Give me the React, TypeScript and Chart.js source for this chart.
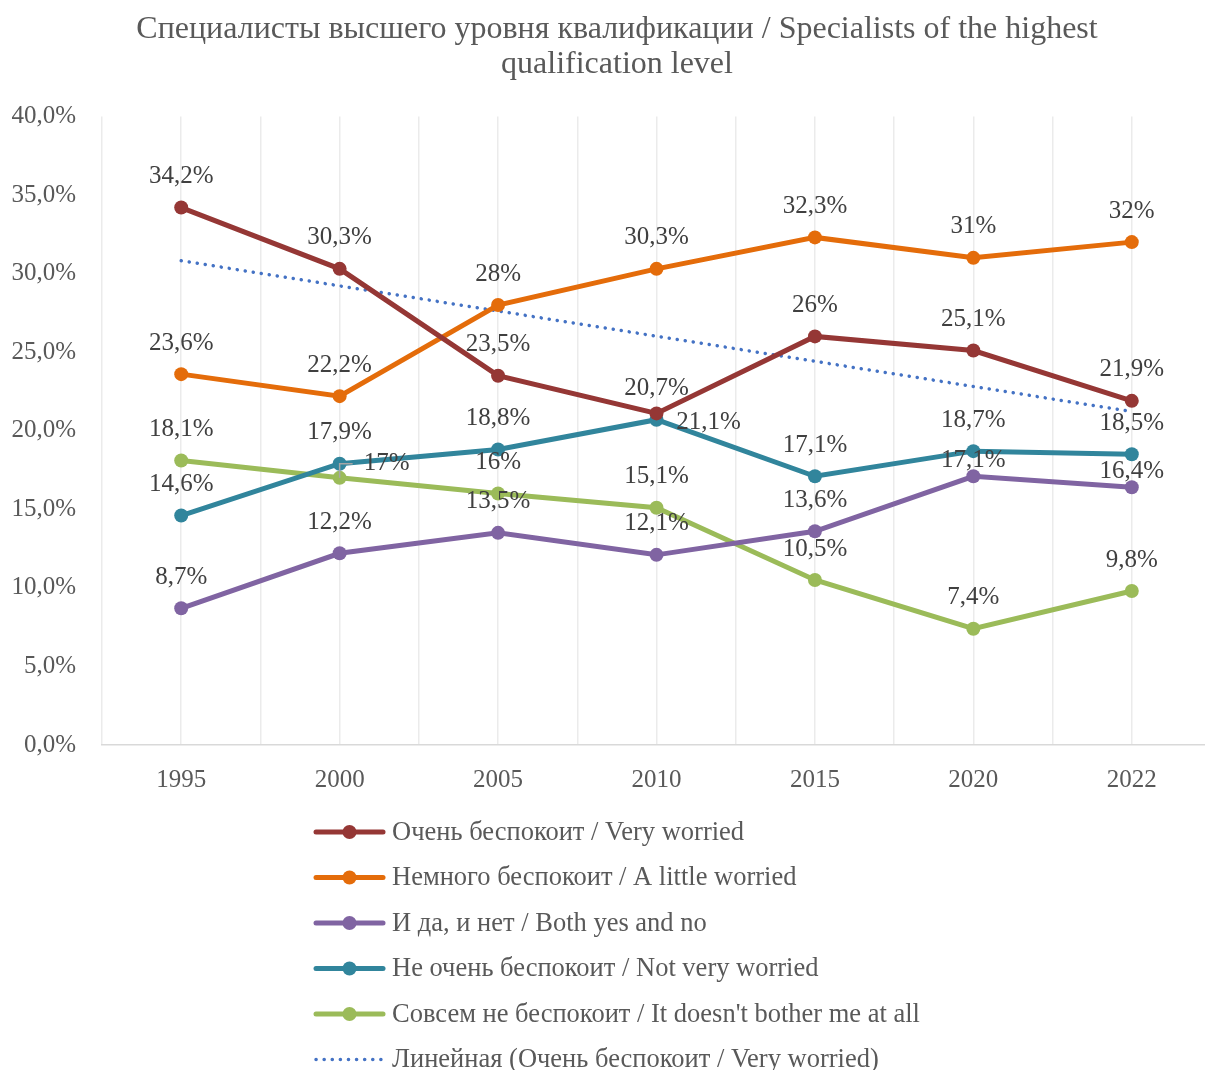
import React, { useEffect, useRef } from 'react';
import { Chart, registerables } from 'chart.js';

Chart.register(...registerables);

// ---------- Data ----------
const CATEGORIES = ['1995', '2000', '2005', '2010', '2015', '2020', '2022'];

const VERY_WORRIED = [34.2, 30.3, 23.5, 21.1, 26, 25.1, 21.9];
const LITTLE_WORRIED = [23.6, 22.2, 28, 30.3, 32.3, 31, 32];
const BOTH_YES_NO = [8.7, 12.2, 13.5, 12.1, 13.6, 17.1, 16.4];
const NOT_VERY_WORRIED = [14.6, 17.9, 18.8, 20.7, 17.1, 18.7, 18.5];
const NOT_AT_ALL = [18.1, 17, 16, 15.1, 10.5, 7.4, 9.8];

const SERIES_NAMES = [
  'Очень беспокоит / Very worried',
  'Немного беспокоит / A little worried',
  'И да, и нет / Both yes and no',
  'Не очень беспокоит / Not very worried',
  "Совсем не беспокоит / It doesn't bother me at all",
];
const TREND_NAME = 'Линейная (Очень беспокоит / Very worried)';

const TITLE_LINES = [
  'Специалисты высшего уровня квалификации / Specialists of the highest',
  'qualification level',
];

const Y_MIN = 0;
const Y_MAX = 40;
const Y_STEP = 5;

// ---------- Styles ----------
const FONT = 'Liberation Serif';
const COLORS = ['#953735', '#E46C0A', '#8064A2', '#31859C', '#9BBB59'];
const TREND_COLOR = '#4472C4';
const AXIS_TEXT = '#595959';
const LABEL_TEXT = '#404040';
const GRID = '#EBEBEB';

// label placement overrides: key "series-index"
const LABEL_PLACEMENT: Record<string, { dx?: number; dy?: number; leader?: boolean }> = {
  '0-3': { dx: 52, dy: 9 },
  '4-1': { dx: 47, dy: -14, leader: true },
  '2-5': { dy: -16 },
  '2-6': { dy: -16 },
};

// least-squares linear trend of a series (as Excel's "Linear" trendline)
function linearTrend(values: number[]): number[] {
  const n = values.length;
  const xs = values.map((_, i) => i + 1);
  const mx = xs.reduce((a, b) => a + b, 0) / n;
  const my = values.reduce((a, b) => a + b, 0) / n;
  let sxy = 0;
  let sxx = 0;
  for (let i = 0; i < n; i++) {
    sxy += (xs[i] - mx) * (values[i] - my);
    sxx += (xs[i] - mx) * (xs[i] - mx);
  }
  const slope = sxy / sxx;
  return xs.map((x) => my + slope * (x - mx));
}

const fmtValue = (v: number) => {
  const s = v.toFixed(1).replace('.', ',');
  return (s.endsWith(',0') ? s.slice(0, -2) : s) + '%';
};
const fmtTick = (v: number) => v.toFixed(1).replace('.', ',') + '%';

// let the y tick labels use the canvas' left margin (avoid clipping)
const widenYLabelArea = {
  id: 'widenYLabelArea',
  afterLayout(chart: any) {
    const y = chart.scales.y;
    if (y) y.left = 0;
  },
};

const dataLabelPlugin = {
  id: 'dataLabels',
  afterDatasetsDraw(chart: any) {
    const ctx = chart.ctx;
    ctx.save();
    ctx.font = `25px "${FONT}"`;
    ctx.fillStyle = LABEL_TEXT;
    ctx.textAlign = 'center';
    ctx.textBaseline = 'middle';
    chart.data.datasets.forEach((ds: any, di: number) => {
      if (ds.isTrend) return;
      const meta = chart.getDatasetMeta(di);
      meta.data.forEach((pt: any, i: number) => {
        const p = LABEL_PLACEMENT[`${di}-${i}`] || {};
        const dx = p.dx ?? 0;
        const dy = p.dy ?? -31;
        const x = pt.x + dx;
        const y = pt.y + dy;
        if (p.leader) {
          ctx.save();
          ctx.strokeStyle = '#A6A6A6';
          ctx.lineWidth = 1.5;
          ctx.beginPath();
          ctx.moveTo(pt.x, pt.y);
          ctx.lineTo(pt.x, y);
          ctx.lineTo(x - 34, y);
          ctx.stroke();
          ctx.restore();
        }
        ctx.fillText(fmtValue(ds.data[i]), x, y);
      });
    });
    ctx.restore();
  },
};

const legendPlugin = {
  id: 'verticalLegend',
  afterDraw(chart: any) {
    const ctx = chart.ctx;
    const datasets = chart.data.datasets;
    ctx.save();
    ctx.font = `26.5px "${FONT}"`;
    const sampleW = 71;
    const gap = 7;
    let maxText = 0;
    datasets.forEach((ds: any) => {
      maxText = Math.max(maxText, ctx.measureText(ds.label).width);
    });
    const blockW = sampleW + gap + maxText;
    const x0 = (chart.width - blockW) / 2;
    const rowH = 45.5;
    const y0 = chart.chartArea.bottom + 87;
    datasets.forEach((ds: any, i: number) => {
      const y = y0 + i * rowH;
      ctx.save();
      ctx.strokeStyle = ds.borderColor;
      ctx.lineWidth = ds.borderWidth;
      ctx.lineCap = 'round';
      if (ds.borderDash) ctx.setLineDash(ds.borderDash);
      ctx.beginPath();
      ctx.moveTo(x0 + 2, y);
      ctx.lineTo(x0 + sampleW - 2, y);
      ctx.stroke();
      ctx.setLineDash([]);
      if (!ds.isTrend) {
        ctx.fillStyle = ds.borderColor;
        ctx.beginPath();
        ctx.arc(x0 + sampleW / 2, y, ds.pointRadius, 0, Math.PI * 2);
        ctx.fill();
      }
      ctx.restore();
      ctx.fillStyle = AXIS_TEXT;
      ctx.textAlign = 'left';
      ctx.textBaseline = 'middle';
      ctx.fillText(ds.label, x0 + sampleW + gap, y + 1);
    });
    ctx.restore();
  },
};

export default function App() {
  const ref = useRef<HTMLCanvasElement | null>(null);

  useEffect(() => {
    if (!ref.current) return;
    const seriesValues = [VERY_WORRIED, LITTLE_WORRIED, BOTH_YES_NO, NOT_VERY_WORRIED, NOT_AT_ALL];
    const datasets: any[] = seriesValues.map((vals, i) => ({
      label: SERIES_NAMES[i],
      data: vals,
      borderColor: COLORS[i],
      backgroundColor: COLORS[i],
      pointBackgroundColor: COLORS[i],
      pointBorderColor: COLORS[i],
      borderWidth: 5,
      pointRadius: 7,
      pointBorderWidth: 0,
      tension: 0,
      xAxisID: 'x',
    }));
    datasets.push({
      label: TREND_NAME,
      data: linearTrend(VERY_WORRIED),
      borderColor: TREND_COLOR,
      backgroundColor: TREND_COLOR,
      borderWidth: 3.5,
      borderDash: [0.1, 8],
      borderCapStyle: 'round',
      pointRadius: 0,
      tension: 0,
      isTrend: true,
      xAxisID: 'x',
    });

    const chart = new Chart(ref.current, {
      type: 'line',
      data: { labels: CATEGORIES, datasets },
      options: {
        responsive: false,
        animation: false,
        devicePixelRatio: 1,
        layout: { padding: { left: 23, right: 23, top: 0, bottom: 265 } },
        plugins: {
          legend: { display: false },
          tooltip: { enabled: false },
          title: {
            display: true,
            text: TITLE_LINES,
            color: AXIS_TEXT,
            font: { family: FONT, size: 32, weight: 'normal', lineHeight: 1.1 },
            padding: { top: 12, bottom: 34 },
          },
        },
        scales: {
          x: {
            type: 'category',
            offset: true,
            grid: { offset: true, color: GRID, lineWidth: 1.5, drawTicks: false },
            border: { color: '#D9D9D9', width: 1.5 },
            ticks: { font: { family: FONT, size: 25 }, color: AXIS_TEXT, padding: 20, maxRotation: 0 },
            afterFit: (s: any) => {
              s.height = 60;
            },
          },
          xc: {
            type: 'category',
            position: 'bottom',
            offset: true,
            grid: { offset: false, color: GRID, lineWidth: 1.5, drawTicks: false },
            border: { display: false },
            ticks: { display: false },
            afterFit: (s: any) => {
              s.height = 0;
            },
          },
          y: {
            min: Y_MIN,
            max: Y_MAX,
            ticks: {
              stepSize: Y_STEP,
              callback: (v: any) => fmtTick(Number(v)),
              font: { family: FONT, size: 25 },
              color: AXIS_TEXT,
              padding: 26,
            },
            grid: { display: false, drawTicks: false },
            border: { display: false },
            afterFit: (s: any) => {
              s.width = 79;
            },
          },
        },
      } as any,
      plugins: [widenYLabelArea, dataLabelPlugin, legendPlugin],
    });
    return () => chart.destroy();
  }, []);

  return (
    <div
      style={{
        position: 'absolute',
        left: 0,
        top: 0,
        width: 1205,
        height: 1070,
        overflow: 'hidden',
        background: '#fff',
      }}
    >
      <canvas ref={ref} width={1234} height={1070} style={{ display: 'block' }} />
    </div>
  );
}
